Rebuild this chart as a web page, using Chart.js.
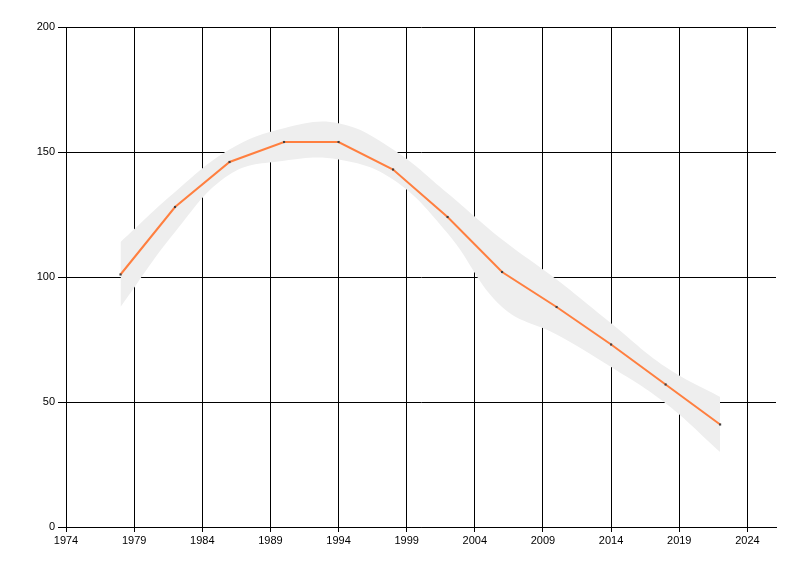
<!DOCTYPE html>
<html>
<head>
<meta charset="utf-8">
<script src="https://cdn.jsdelivr.net/npm/chart.js@4/dist/chart.umd.min.js"></script>
<style>
html,body{margin:0;padding:0;background:#fff;}
#wrap{width:800px;height:576px;position:relative;}
</style>
</head>
<body>
<div id="wrap"><canvas id="c" width="800" height="576"></canvas></div>
<script>
const years = [1978,1982,1986,1990,1994,1998,2002,2006,2010,2014,2018,2022];
const values = [101,128,146,154,154,143,124,102,88,73,57,41];
const upperBand = [114,134,151,159.5,161.5,151,133.5,115,99,81.5,64,52];
const lowerBand = [88,118,141,146.5,147,139,117.5,88,77,64,49.5,30];
const xTicks = [1974,1979,1984,1989,1994,1999,2004,2009,2014,2019,2024];
const yTicks = [0,50,100,150,200];

const toPts = arr => years.map((y,i)=>({x:y,y:arr[i]}));

new Chart(document.getElementById('c'), {
  type: 'line',
  data: {
    datasets: [
      {
        data: toPts(upperBand),
        borderWidth: 0,
        borderColor: 'rgba(0,0,0,0)',
        backgroundColor: '#eeeeee',
        fill: '+1',
        pointRadius: 0,
        tension: 0.4,
        order: 3
      },
      {
        data: toPts(lowerBand),
        borderWidth: 0,
        borderColor: 'rgba(0,0,0,0)',
        backgroundColor: '#eeeeee',
        fill: false,
        pointRadius: 0,
        tension: 0.4,
        order: 2
      },
      {
        data: toPts(values),
        borderColor: '#ff7f3f',
        borderWidth: 2,
        fill: false,
        tension: 0,
        pointStyle: 'rect',
        pointRadius: 1.5,
        pointBackgroundColor: '#404040',
        pointBorderWidth: 0,
        order: 1
      }
    ]
  },
  options: {
    responsive: false,
    animation: false,
    events: [],
    layout: { padding: { top: 27, right: 24, left: 0, bottom: 0 } },
    plugins: { legend: { display: false }, tooltip: { enabled: false } },
    scales: {
      x: {
        type: 'linear',
        min: 1974,
        max: 2026.1,
        afterBuildTicks: s => { s.ticks = xTicks.map(v => ({value: v})); },
        afterFit: s => { s.height = 49; },
        grid: { color: '#000', lineWidth: 1, tickLength: 5, drawOnChartArea: true },
        border: { color: '#000', width: 1 },
        ticks: {
          color: '#000',
          padding: 2,
          maxRotation: 0,
          autoSkip: false,
          font: { family: 'Liberation Sans', size: 11 },
          callback: v => String(v)
        }
      },
      y: {
        type: 'linear',
        min: 0,
        max: 200,
        afterBuildTicks: s => { s.ticks = yTicks.map(v => ({value: v})); },
        afterFit: s => { s.width = 66; },
        grid: { color: '#000', lineWidth: 1, tickLength: 8, drawOnChartArea: true },
        border: { color: '#000', width: 1 },
        ticks: {
          color: '#000',
          padding: 3,
          autoSkip: false,
          font: { family: 'Liberation Sans', size: 11 },
          callback: v => String(v)
        }
      }
    }
  }
});
</script>
</body>
</html>
